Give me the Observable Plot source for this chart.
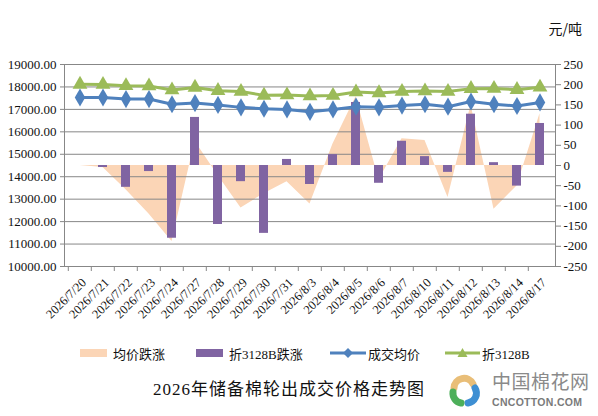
<!DOCTYPE html>
<html>
<head>
<meta charset="utf-8">
<script src="https://cdn.jsdelivr.net/npm/d3@7"></script>
<script src="https://cdn.jsdelivr.net/npm/@observablehq/plot@0.6"></script>
<style>
  html, body { margin: 0; padding: 0; background: #fff; }
  body { width: 598px; height: 416px; position: relative; overflow: hidden;
         font-family: "Liberation Serif", "Noto Sans CJK SC", serif; }
  #chart { position: absolute; left: 0; top: 0; }
  .lg { position: absolute; top: 343px; height: 20px; display: flex; align-items: center;
        font-size: 13px; color: #111; font-family: "Liberation Serif", "Noto Sans CJK SC", serif; }
  .lg svg { display: block; }
  #title { position: absolute; left: 153px; top: 375px; font-size: 17px; letter-spacing: 1px;
           color: #111; font-family: "Liberation Serif", "Noto Sans CJK SC", serif; white-space: nowrap; }
  #logo { position: absolute; left: 446px; top: 374px; }
  #brand { position: absolute; left: 492px; top: 370px; font-size: 19px; color: #8a8a8a;
           font-family: "Noto Sans CJK SC", sans-serif; letter-spacing: 0.5px; line-height: 22px; }
  #brand2 { position: absolute; left: 492px; top: 396px; font-size: 10.5px; font-weight: bold; color: #7a7a7a;
            font-family: "Liberation Sans", Arial, sans-serif; letter-spacing: 0.3px; line-height: 12px; }
</style>
</head>
<body>
<div id="chart"></div>

<div class="lg" style="left:80px">
  <svg width="27" height="10"><rect x="0" y="1" width="27" height="8" fill="#FBD5B6"></rect></svg>
  <span style="margin-left:6px">均价跌涨</span>
</div>
<div class="lg" style="left:196px">
  <svg width="27" height="10"><rect x="0" y="1" width="27" height="8" fill="#8064A2"></rect></svg>
  <span style="margin-left:6px">折3128B跌涨</span>
</div>
<div class="lg" style="left:330px">
  <svg width="36" height="12"><line x1="0" y1="6" x2="36" y2="6" stroke="#4F81BD" stroke-width="3"></line>
    <path d="M18,1 L23,6 L18,11 L13,6 Z" fill="#4F81BD"></path></svg>
  <span style="margin-left:2px">成交均价</span>
</div>
<div class="lg" style="left:445px">
  <svg width="35" height="12"><line x1="0" y1="6" x2="35" y2="6" stroke="#9BBB59" stroke-width="3"></line>
    <path d="M17.5,1 L22.5,10 L12.5,10 Z" fill="#9BBB59"></path></svg>
  <span style="margin-left:2px">折3128B</span>
</div>

<div id="title">2026年储备棉轮出成交价格走势图</div>

<svg id="logo" width="38" height="34" viewBox="0 0 38 34">
  <path d="M8,14 A10,10 0 0 1 27,10" fill="none" stroke="#E9BE78" stroke-width="7" stroke-linecap="round"></path>
  <path d="M29,14 A10,10 0 0 1 22,29" fill="none" stroke="#3E8FD3" stroke-width="7" stroke-linecap="round"></path>
  <path d="M15,29 A10,10 0 0 1 7,18" fill="none" stroke="#4DAF5A" stroke-width="7" stroke-linecap="round"></path>
</svg>
<div id="brand">中国棉花网</div>
<div id="brand2">CNCOTTON.COM</div>

<script>
// ---- data ----
const categories = ["2026/7/20","2026/7/21","2026/7/22","2026/7/23","2026/7/24","2026/7/27","2026/7/28",
  "2026/7/29","2026/7/30","2026/7/31","2026/8/3","2026/8/4","2026/8/5","2026/8/6","2026/8/7",
  "2026/8/10","2026/8/11","2026/8/12","2026/8/13","2026/8/14","2026/8/17"];
// 成交均价 (left axis, 元/吨)
const avgPrice = [17530,17530,17460,17460,17230,17280,17200,17090,17030,17000,16890,
  17000,17120,17090,17170,17230,17120,17350,17230,17150,17310];
// 折3128B (left axis, 元/吨)
const price3128 = [18115,18110,18055,18040,17860,17980,17835,17795,17625,17640,17595,
  17620,17775,17735,17795,17815,17800,17925,17930,17880,17985];
// 均价跌涨 (right axis)
const avgChange = [0,-5,-60,-120,-188,60,-25,-105,-70,-40,-95,
  53,170,-35,66,62,-79,150,-108,-51,128];
// 折3128B跌涨 (right axis)
const change3128 = [0,-5,-54,-15,-180,119,-146,-40,-168,15,-47,
  27,156,-44,60,22,-17,127,7,-51,104];
// tick labels
const leftTicks = [10000,11000,12000,13000,14000,15000,16000,17000,18000,19000];
const rightTicks = [-250,-200,-150,-100,-50,0,50,100,150,200,250];

// secondary axis: right domain [-250,250] maps onto left domain [10000,19000]
const leftDomain = [10000, 19000];
const rightDomain = [-250, 250];
const k = (leftDomain[1] - leftDomain[0]) / (rightDomain[1] - rightDomain[0]);
const toLeft = v => leftDomain[0] + (v - rightDomain[0]) * k;
const fromLeft = y => Math.round((y - leftDomain[0]) / k + rightDomain[0]);

const rows = categories.map((date, i) => ({
  date,
  avgPrice: avgPrice[i],
  price3128: price3128[i],
  avgChange: avgChange[i],
  change3128: change3128[i]
}));

const grid = "#878787";
const W = 598, mL = 64, mR = 43;
const bw = (W - mL - mR) / categories.length;

const chart = Plot.plot({
  width: W,
  height: 338,
  marginTop: 64,
  marginBottom: 72,
  marginLeft: mL,
  marginRight: mR,
  style: { fontFamily: "Liberation Serif, Noto Sans CJK SC, serif", fontSize: "13px", background: "white", color: "#111", overflow: "visible" },
  x: { type: "band", domain: categories, padding: 0 },
  y: { domain: leftDomain },
  marks: [
    Plot.areaY(rows, { x: "date", y1: toLeft(0), y2: d => toLeft(d.avgChange), fill: "#FBD5B6", curve: "linear" }),
    Plot.ruleY(leftTicks, { stroke: grid, strokeWidth: 1 }),
    Plot.barY(rows, { x: "date", y1: toLeft(0), y2: d => toLeft(d.change3128), fill: "#8064A2", insetLeft: 7, insetRight: 7 }),
    Plot.line(rows, { x: "date", y: "price3128", stroke: "#9BBB59", strokeWidth: 3 }),
    Plot.dot(rows, { x: "date", y: "price3128", symbol: "triangle", fill: "#9BBB59", r: 5.5 }),
    Plot.line(rows, { x: "date", y: "avgPrice", stroke: "#4F81BD", strokeWidth: 3 }),
    Plot.dot(rows, { x: "date", y: "avgPrice", symbol: "diamond", fill: "#4F81BD", r: 5.5 }),
    Plot.frame({ stroke: grid }),
    // category boundary ticks on the x axis
    Plot.ruleX(categories, { x: d => d, y1: leftDomain[0], y2: leftDomain[0], insetBottom: -5, dx: -bw / 2, stroke: grid }),
    Plot.axisX({ tickSize: 0, tickRotate: -45, tickPadding: 14, dx: 4, label: null, fontSize: 12.5 }),
    Plot.axisY(leftTicks, { anchor: "left", tickFormat: d => d.toFixed(2), tickSize: 4, tickPadding: 4, stroke: grid, label: null, fontSize: 13 }),
    Plot.axisY(rightTicks.map(toLeft), { anchor: "right", tickFormat: d => String(fromLeft(d)), tickSize: 5, tickPadding: 3, stroke: grid, label: null, fontSize: 13 }),
    Plot.text(["元/吨"], { frameAnchor: "top-right", text: d => d, dx: -7, dy: -40, textAnchor: "start", fontSize: 14, fontFamily: "Noto Sans CJK SC, sans-serif" })
  ]
});
document.getElementById("chart").appendChild(chart);
</script>
</body>
</html>
